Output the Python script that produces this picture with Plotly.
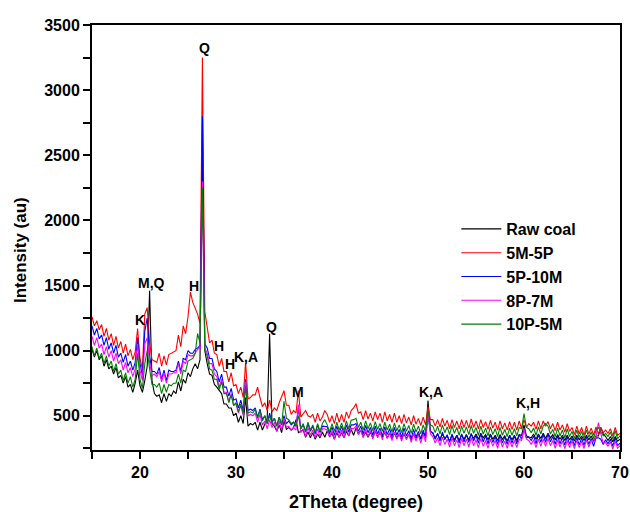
import numpy as np
import plotly.graph_objects as go

# 2Theta grid (degrees), 0.25 step from 15 to 70
two_theta = np.arange(15.0, 70.001, 0.25)

# one row per degree: values at d, d+0.25, d+0.5, d+0.75
raw_coal = [
    1010, 950, 1000, 930,  960, 880, 930, 860,  880, 820, 870, 790,  810, 750, 800, 720,
    740, 680, 750, 850,    730, 680, 770, 880,  1460, 770, 670, 650, 660, 600, 670, 610,
    670, 650, 690, 670,    760, 690, 780, 750,  830, 800, 860, 900,  860, 930, 2700, 1000,
    900, 820, 810, 740,    720, 690, 670, 590,  590, 560, 560, 500,  520, 450, 500, 440,
    640, 420, 440, 430,    450, 390, 450, 390,  440, 480, 1130, 440, 420, 380, 430, 370,
    460, 395, 410, 390,    410, 470, 370, 380,  390, 335, 375, 330,  370, 320, 360, 330,
    375, 335, 385, 340,    365, 320, 370, 335,  370, 330, 380, 345,  395, 350, 405, 360,
    390, 340, 375, 335,    375, 330, 380, 340,  370, 335, 375, 330,  365, 325, 365, 330,
    360, 320, 360, 325,    355, 315, 360, 325,  360, 320, 370, 340,  616, 380, 365, 330,
    360, 320, 360, 325,    345, 305, 350, 315,  350, 310, 355, 320,  355, 315, 360, 325,
    360, 320, 365, 330,    355, 315, 360, 320,  350, 310, 355, 320,  345, 305, 350, 315,
    350, 310, 355, 350,    430, 345, 340, 330,  360, 320, 360, 325,  365, 325, 365, 330,
    355, 315, 355, 320,    350, 310, 350, 315,  345, 305, 350, 315,  345, 310, 350, 315,
    345, 305, 345, 345,    410, 360, 340, 310,  340, 300, 340, 305,  320,
]

s_5m_5p = [
    1260, 1190, 1230, 1160, 1200, 1110, 1170, 1080, 1130, 1040, 1110, 1020, 1070, 980, 1050, 960,
    1010, 930, 990, 1170,   940, 860, 1280, 1330,   1060, 930, 920, 910,    980, 880, 960, 890,
    970, 980, 990, 1000,    1120, 1030, 1190, 1130, 1260, 1450, 1370, 1330, 1280, 1210, 3250, 1300,
    1170, 1060, 1080, 980,  970, 880, 940, 840,    840, 760, 830, 730,     740, 670, 720, 640,
    910, 630, 640, 660,     660, 720, 640, 570,    600, 540, 620, 530,     560, 540, 600, 640,
    693, 580, 580, 510,     540, 520, 693, 490,    520, 540, 500, 490,     510, 450, 520, 460,
    490, 540, 510, 450,     500, 440, 520, 450,    510, 450, 530, 480,     540, 560, 592, 520,
    530, 470, 540, 475,     520, 460, 530, 470,    520, 450, 530, 460,     510, 450, 520, 450,
    500, 440, 510, 445,     490, 430, 500, 435,    480, 425, 490, 430,     570, 470, 470, 420,
    470, 415, 480, 420,     465, 400, 470, 410,    460, 400, 470, 410,     465, 405, 475, 410,
    460, 400, 470, 410,     455, 395, 465, 405,    450, 390, 460, 400,     445, 390, 455, 395,
    450, 390, 460, 400,     470, 410, 440, 420,    450, 395, 460, 400,     460, 420, 455, 400,
    440, 385, 450, 390,     430, 375, 440, 380,    410, 355, 420, 360,     410, 350, 420, 360,
    405, 350, 415, 360,     410, 370, 390, 365,    400, 345, 410, 350,     365,
]

s_5p_10m = [
    1190, 1120, 1170, 1090, 1120, 1040, 1100, 1010, 1060, 980, 1040, 950,  980, 910, 970, 880,
    920, 850, 910, 1100,    900, 810, 1150, 1250,   960, 840, 840, 820,    870, 780, 850, 770,
    850, 840, 840, 850,     920, 840, 940, 930,     1000, 980, 980, 1010,  1020, 1040, 2800, 1050,
    1020, 940, 940, 860,    840, 760, 820, 720,     720, 650, 710, 620,    630, 560, 620, 540,
    780, 540, 550, 540,     560, 490, 550, 470,     500, 440, 520, 450,    480, 420, 490, 430,
    500, 440, 460, 430,     450, 420, 560, 400,     430, 375, 440, 380,    420, 360, 430, 370,
    420, 420, 415, 360,     415, 350, 420, 365,     420, 360, 430, 375,    430, 430, 440, 380,
    420, 360, 425, 370,     410, 350, 420, 360,     405, 345, 415, 355,    400, 340, 410, 350,
    395, 335, 405, 345,     385, 325, 395, 335,     380, 320, 390, 330,    500, 380, 370, 320,
    365, 305, 375, 315,     355, 295, 360, 300,     350, 290, 360, 300,    355, 295, 365, 305,
    350, 290, 360, 300,     345, 285, 355, 295,     340, 280, 350, 290,    340, 280, 350, 290,
    345, 285, 355, 320,     400, 330, 335, 310,     345, 285, 355, 295,    355, 295, 360, 300,
    340, 280, 345, 285,     335, 275, 340, 280,     330, 270, 335, 275,    330, 270, 340, 280,
    325, 265, 330, 330,     320, 280, 315, 285,     320, 265, 330, 270,    290,
]

s_8p_7m = [
    1110, 1040, 1100, 1020, 1050, 970, 1030, 950,  1000, 920, 980, 900,   930, 850, 910, 830,
    870, 800, 860, 1050,    850, 770, 1050, 1100,  910, 810, 820, 800,    840, 760, 830, 750,
    820, 820, 830, 830,     900, 820, 920, 900,    970, 960, 960, 980,    1010, 1020, 2300, 1020,
    980, 900, 900, 820,     800, 720, 780, 680,    680, 610, 670, 580,    590, 520, 580, 500,
    760, 500, 510, 500,     520, 450, 510, 430,    460, 400, 470, 410,    450, 380, 460, 390,
    480, 410, 420, 390,     410, 390, 585, 370,    400, 340, 410, 350,    390, 330, 400, 340,
    400, 400, 390, 335,     385, 320, 390, 335,    390, 330, 400, 345,    405, 400, 420, 355,
    390, 330, 395, 340,     385, 320, 390, 330,    380, 315, 385, 325,    370, 310, 375, 320,
    365, 305, 370, 315,     360, 295, 365, 305,    355, 290, 360, 300,    520, 360, 340, 290,
    330, 270, 335, 280,     320, 260, 330, 270,    315, 255, 325, 270,    320, 260, 330, 270,
    315, 255, 325, 265,     310, 250, 320, 265,    310, 250, 320, 260,    305, 250, 315, 260,
    310, 255, 320, 310,     400, 320, 310, 280,    315, 255, 320, 265,    320, 265, 325, 270,
    310, 250, 315, 260,     305, 248, 310, 255,    305, 248, 310, 255,    305, 248, 315, 260,
    310, 300, 340, 447,     360, 290, 295, 265,    300, 245, 305, 250,    270,
]

s_10p_5m = [
    1030, 960, 1020, 940,   980, 900, 960, 880,    920, 840, 900, 820,    850, 770, 830, 750,
    800, 720, 780, 980,     780, 710, 900, 1000,   860, 740, 740, 720,    750, 670, 740, 680,
    740, 730, 750, 750,     820, 750, 850, 840,    920, 930, 940, 980,    1130, 1060, 2250, 1000,
    960, 860, 850, 780,     780, 700, 760, 670,    670, 600, 660, 580,    600, 530, 590, 520,
    727, 520, 530, 520,     550, 480, 540, 460,    500, 440, 500, 450,    480, 420, 490, 430,
    610, 480, 470, 440,     450, 420, 500, 400,    440, 380, 450, 390,    430, 370, 440, 380,
    440, 470, 430, 375,     440, 380, 450, 390,    445, 385, 460, 400,    465, 470, 480, 410,
    450, 390, 460, 400,     445, 385, 455, 395,    440, 380, 450, 390,    435, 375, 445, 385,
    430, 370, 440, 380,     425, 365, 435, 375,    420, 360, 430, 375,    540, 430, 420, 370,
    420, 360, 430, 370,     415, 355, 425, 365,    410, 350, 420, 365,    415, 355, 425, 365,
    410, 350, 420, 360,     405, 345, 415, 355,    400, 340, 410, 350,    395, 340, 405, 350,
    400, 345, 410, 400,     516, 410, 400, 370,    405, 350, 415, 360,    420, 440, 420, 360,
    395, 340, 405, 345,     390, 330, 400, 340,    380, 325, 390, 335,    380, 325, 390, 335,
    375, 325, 390, 408,     380, 345, 365, 340,    375, 320, 385, 325,    345,
]

series_names = ["Raw coal", "5M-5P", "5P-10M", "8P-7M", "10P-5M"]
series_values = [raw_coal, s_5m_5p, s_5p_10m, s_8p_7m, s_10p_5m]
series_colors = ["#000000", "#FF0000", "#0000FF", "#FF00FF", "#008000"]

for v in series_values:
    assert len(v) == len(two_theta), len(v)

# tick positions and labels (every tick listed; only the major ones carry a label)
x_tick_vals = [15, 20, 25, 30, 35, 40, 45, 50, 55, 60, 65, 70]
x_tick_text = ["", "20", "", "30", "", "40", "", "50", "", "60", "", "70"]
y_tick_vals = [250, 500, 750, 1000, 1250, 1500, 1750, 2000, 2250, 2500, 2750, 3000, 3250, 3500]
y_tick_text = ["", "500", "", "1000", "", "1500", "", "2000", "", "2500", "", "3000", "", "3500"]

# peak labels: (text, 2theta, intensity)
peak_labels = ["Q", "M,Q", "K", "H", "H", "H", "K,A", "Q", "M", "K,A", "K,H"]
peak_x = [26.67, 21.2, 20.0, 25.6, 28.18, 29.4, 31.0, 33.7, 36.5, 50.3, 60.4]
peak_y = [3323, 1523, 1232, 1500, 1039, 900, 950, 1185, 685, 685, 600]

FONT = "Liberation Sans, Arial, sans-serif"
XR = [15, 70]
YR = [237, 3500]

fig = go.Figure()
for name, vals, col in zip(series_names, series_values, series_colors):
    fig.add_trace(go.Scatter(x=two_theta, y=vals, mode="lines", name=name,
                             line=dict(color=col, width=1.1)))

for t, x, y in zip(peak_labels, peak_x, peak_y):
    fig.add_annotation(x=x, y=y, text=t, showarrow=False, xref="x", yref="y",
                       font=dict(family=FONT, size=14, color="black", weight="bold"))

axis_common = dict(showgrid=False, zeroline=False, showline=True, linewidth=2, mirror=True,
                   linecolor="black", ticks="outside", ticklen=7, tickwidth=2,
                   tickcolor="black", automargin=False,
                   tickfont=dict(family=FONT, size=16, color="black", weight="bold"))

fig.update_layout(
    width=630, height=512,
    margin=dict(l=92, r=10, t=25, b=62, pad=0),
    paper_bgcolor="white", plot_bgcolor="white",
    font=dict(family=FONT, color="black"),
    showlegend=True,
    legend=dict(x=0.69, y=0.56, xanchor="left", yanchor="top",
                font=dict(family=FONT, size=16, color="black", weight="bold"),
                bgcolor="rgba(0,0,0,0)", borderwidth=0, tracegroupgap=0, itemwidth=40),
    xaxis=dict(range=XR, tickmode="array", tickvals=x_tick_vals, ticktext=x_tick_text,
               **axis_common),
    yaxis=dict(range=YR, tickmode="array", tickvals=y_tick_vals, ticktext=y_tick_text,
               **axis_common),
)

# axis titles as paper annotations
fig.add_annotation(x=0.5, y=(450 - 502) / 425, xref="paper", yref="paper", text="2Theta (degree)",
                   xanchor="center", yanchor="middle", showarrow=False,
                   font=dict(family=FONT, size=18, color="black", weight="bold"))
fig.add_annotation(x=(20 - 92) / 528, y=(450 - 250) / 425, xref="paper", yref="paper",
                   text="Intensity (au)", textangle=-90, xanchor="center", yanchor="middle",
                   showarrow=False, font=dict(family=FONT, size=17, color="black", weight="bold"))

fig.write_html("out.html")
